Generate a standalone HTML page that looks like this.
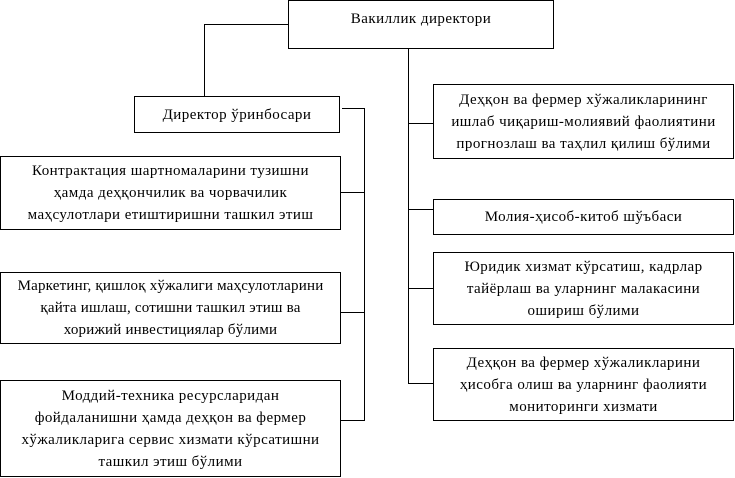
<!DOCTYPE html>
<html><head><meta charset="utf-8"><style>
html,body{margin:0;padding:0;background:#fff;width:735px;height:478px;overflow:hidden}
.b{position:absolute;border:1px solid #000;box-sizing:border-box;display:flex;align-items:center;justify-content:center;text-align:center;font-family:"Liberation Serif","DejaVu Serif",serif;font-size:15px;line-height:22px;letter-spacing:0.45px;background:#fff;white-space:nowrap}
.l{position:absolute;background:#000}
</style></head><body>
<div class="b" style="left:288px;top:0;width:266px;height:49px;align-items:flex-start;padding-top:7px">Вакиллик директори</div>
<div class="b" style="left:134px;top:96px;width:206px;height:37px">Директор ўринбосари</div>
<div class="b" style="left:0;top:156px;width:341px;height:74px">Контрактация шартномаларини тузишни<br>ҳамда деҳқончилик ва чорвачилик<br>маҳсулотлари етиштиришни ташкил этиш</div>
<div class="b" style="left:0;top:272px;width:341px;height:72px;letter-spacing:0.2px">Маркетинг, қишлоқ хўжалиги маҳсулотларини<br>қайта ишлаш, сотишни ташкил этиш ва<br>хорижий инвестициялар бўлими</div>
<div class="b" style="left:0;top:380px;width:341px;height:97px">Моддий-техника ресурсларидан<br>фойдаланишни ҳамда деҳқон ва фермер<br>хўжаликларига сервис хизмати кўрсатишни<br>ташкил этиш бўлими</div>
<div class="b" style="left:433px;top:84px;width:301px;height:75px">Деҳқон ва фермер хўжаликларининг<br>ишлаб чиқариш-молиявий фаолиятини<br>прогнозлаш ва таҳлил қилиш бўлими</div>
<div class="b" style="left:433px;top:199px;width:301px;height:36px">Молия-ҳисоб-китоб шўъбаси</div>
<div class="b" style="left:433px;top:252px;width:301px;height:73px">Юридик хизмат кўрсатиш, кадрлар<br>тайёрлаш ва уларнинг малакасини<br>ошириш бўлими</div>
<div class="b" style="left:433px;top:348px;width:301px;height:73px">Деҳқон ва фермер хўжаликларини<br>ҳисобга олиш ва уларнинг фаолияти<br>мониторинги хизмати</div>
<div class="l" style="left:204px;top:24px;width:84px;height:1px"></div>
<div class="l" style="left:204px;top:24px;width:1px;height:72px"></div>
<div class="l" style="left:342px;top:108px;width:23px;height:1px"></div>
<div class="l" style="left:364px;top:108px;width:1px;height:313px"></div>
<div class="l" style="left:341px;top:192px;width:24px;height:1px"></div>
<div class="l" style="left:341px;top:312px;width:24px;height:1px"></div>
<div class="l" style="left:341px;top:420px;width:24px;height:1px"></div>
<div class="l" style="left:408px;top:48px;width:1px;height:336px"></div>
<div class="l" style="left:408px;top:123px;width:25px;height:1px"></div>
<div class="l" style="left:408px;top:209px;width:25px;height:1px"></div>
<div class="l" style="left:408px;top:288px;width:25px;height:1px"></div>
<div class="l" style="left:408px;top:383px;width:25px;height:1px"></div>
</body></html>
